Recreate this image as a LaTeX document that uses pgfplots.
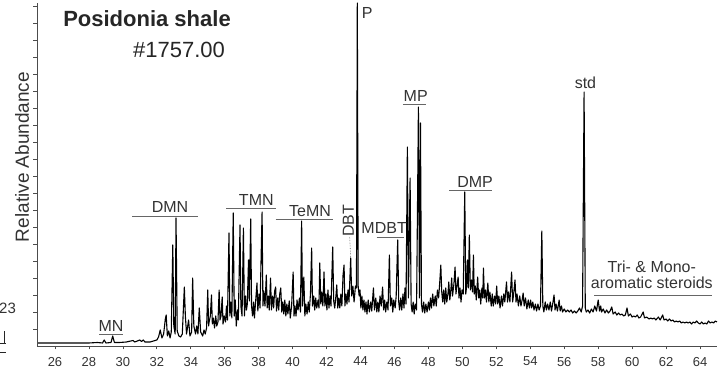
\documentclass[border=0pt]{standalone}
\usepackage{fontspec}
\setmainfont{Liberation Sans}
\usepackage{pgfplots}
\pgfplotsset{compat=1.18}
\definecolor{lab}{HTML}{333333}
\definecolor{barc}{HTML}{666666}
\begin{document}
\begin{tikzpicture}
\useasboundingbox (-37pt,-31pt) rectangle (687pt,346pt);
\begin{axis}[
 scale only axis, width=680pt, height=343pt,
 xmin=24.94, xmax=65.0, ymin=0, ymax=343,
 axis x line*=bottom, axis y line*=left,
 xtick={26,28,...,64},
 ytick={17,34,...,340}, yticklabels={},
 tick align=outside, major tick length=3.5pt,
 tick style={color=black!70, line width=0.7pt},
 axis line style={color=black!70, line width=0.9pt, -},
 x tick label style={font=\fontsize{13}{15}\selectfont, text=black!80, yshift=-4pt},
 /pgf/number format/assume math mode=true,
 clip=false,
]
\addplot[black, line width=1.1pt, no markers, sharp plot, line join=round] coordinates {
(25.0,3) (25.5,3) (26,3) (26.5,3) (27,3) (27.5,3) (28,3) (28.5,3.5) (28.8,3) (28.9,6) (29.0,3) (29.3,3.5) (29.4,10) (29.5,3.5) (29.8,3.5) (30.2,4) (30.6,5.5) (30.7,4) (31.0,6) (31.1,4.5) (31.2,6) (31.3,4) (31.6,4) (31.8,5)
(32.0,6) (32.1,9) (32.2,16) (32.3,8) (32.4,12) (32.5,27) (32.55,31) (32.62,10) (32.7,15) (32.78,8) (32.85,14) (32.94,101) (33.0,20) (33.08,12) (33.13,128) (33.2,15) (33.3,10) (33.4,9) (33.5,12) (33.62,59) (33.68,30) (33.75,12) (33.87,26) (33.95,10) (34.05,14) (34.11,68) (34.18,20) (34.28,12) (34.35,20) (34.42,12) (34.5,38) (34.58,14) (34.7,10) (34.78,16) (34.85,12) (34.93,18)
(35.0,56) (35.05,20) (35.08,24) (35.15,30) (35.22,51) (35.27,22) (35.33,28) (35.4,18) (35.47,30) (35.53,20) (35.6,24) (35.67,56) (35.72,26) (35.78,30) (35.85,49) (35.9,22) (35.97,30) (36.05,24) (36.1,40) (36.16,26) (36.25,113) (36.3,30) (36.36,44) (36.42,28) (36.5,133) (36.56,30) (36.62,46) (36.68,20) (36.75,36) (36.8,26) (36.9,121) (36.95,40) (37.02,30) (37.1,118) (37.16,30) (37.22,50) (37.28,36) (37.33,42) (37.4,86) (37.45,45) (37.53,127) (37.58,40) (37.64,30) (37.7,44) (37.75,28) (37.8,40) (37.9,63) (37.95,35) (38.02,52) (38.08,38) (38.2,134) (38.25,40) (38.3,55) (38.37,40) (38.45,71) (38.5,38) (38.56,50) (38.62,36) (38.7,68) (38.75,36) (38.82,50) (38.88,38) (38.94,55) (39.0,59) (39.05,35) (39.12,48) (39.18,36) (39.24,52) (39.3,58) (39.36,34) (39.42,44) (39.48,32) (39.54,46) (39.6,30) (39.66,42) (39.72,32) (39.8,45) (39.86,28) (39.94,40)
(40.03,74) (40.08,30) (40.14,40) (40.2,30) (40.26,46) (40.32,36) (40.4,48) (40.46,34) (40.53,125) (40.58,40) (40.66,69) (40.72,30) (40.78,42) (40.85,32) (40.92,44) (40.98,34) (41.05,52) (41.12,98) (41.17,40) (41.24,50) (41.3,36) (41.36,48) (41.42,38) (41.5,46) (41.55,38) (41.6,83) (41.66,42) (41.72,54) (41.78,40) (41.85,74) (41.9,40) (41.96,52) (42.02,36) (42.08,56) (42.14,38) (42.2,50) (42.26,40) (42.36,99) (42.42,45) (42.48,38) (42.55,50) (42.6,61) (42.66,38) (42.72,48) (42.78,38) (42.84,52) (42.9,40) (42.97,71) (43.03,81) (43.08,40) (43.14,52) (43.2,42) (43.26,56) (43.32,44) (43.42,88) (43.48,50) (43.55,60) (43.62,44) (43.7,60) (43.76,58) (43.81,343) (43.86,60) (43.92,50) (43.97,56)
(44.02,38) (44.08,50) (44.14,36) (44.2,46) (44.26,34) (44.32,44) (44.38,32) (44.45,46) (44.52,34) (44.6,44) (44.66,35) (44.76,58) (44.82,36) (44.9,48) (44.96,34) (45.02,44) (45.08,34) (45.15,50) (45.22,40) (45.3,59) (45.36,36) (45.42,46) (45.48,34) (45.55,44) (45.62,36) (45.7,91) (45.76,40) (45.84,48) (45.9,34) (45.96,46) (46.04,38) (46.1,50) (46.19,106) (46.25,44) (46.3,36) (46.37,48) (46.43,36) (46.5,52) (46.56,38) (46.62,58) (46.68,42) (46.76,199) (46.82,48) (46.92,168) (46.98,42) (47.04,34) (47.1,44) (47.16,32) (47.22,42) (47.3,36) (47.41,239) (47.47,48) (47.53,223) (47.59,42) (47.65,34) (47.72,44) (47.78,33) (47.85,42) (47.92,34) (48.0,44) (48.06,36) (48.12,48) (48.18,38) (48.25,52) (48.32,40) (48.4,50) (48.46,40) (48.53,56) (48.6,48) (48.66,62) (48.73,81) (48.78,55) (48.84,44) (48.9,56) (48.96,42) (49.02,58) (49.08,44) (49.15,52) (49.2,64) (49.26,46) (49.32,56) (49.37,68) (49.42,50) (49.5,62) (49.57,79) (49.62,52) (49.68,60) (49.75,69) (49.8,48) (49.86,58) (49.92,44) (49.98,56)
(50.05,52) (50.14,154) (50.2,52) (50.25,60) (50.3,86) (50.35,58) (50.41,111) (50.47,56) (50.54,66) (50.6,54) (50.65,91) (50.7,52) (50.76,60) (50.82,46) (50.9,69) (50.96,48) (51.02,56) (51.08,42) (51.15,58) (51.2,48) (51.24,78) (51.3,48) (51.36,56) (51.42,44) (51.5,63) (51.56,44) (51.62,54) (51.7,40) (51.76,52) (51.82,40) (51.9,50) (51.96,42) (52.02,60) (52.08,42) (52.15,50) (52.22,38) (52.3,50) (52.36,40) (52.44,52) (52.5,44) (52.6,64) (52.66,44) (52.72,54) (52.8,44) (52.9,74) (52.96,44) (53.02,52) (53.1,66) (53.16,44) (53.22,52) (53.3,40) (53.38,50) (53.45,40) (53.52,46) (53.58,53) (53.64,40) (53.72,48) (53.8,37) (53.88,46) (53.95,38)
(54.02,46) (54.08,38) (54.15,44) (54.22,36) (54.3,42) (54.37,35) (54.45,42) (54.52,36) (54.6,40) (54.68,115) (54.74,40) (54.8,34) (54.88,44) (54.95,36) (55.02,42) (55.1,36) (55.18,44) (55.25,35) (55.32,42) (55.4,51) (55.46,36) (55.52,42) (55.6,35) (55.7,46) (55.76,35) (55.84,40) (55.9,34) (56.0,37) (56.1,34) (56.2,36) (56.3,34) (56.4,36) (56.5,33) (56.6,35) (56.7,33) (56.8,35) (56.9,38) (57.0,34) (57.08,40) (57.17,254) (57.24,38) (57.3,34) (57.4,36) (57.5,33) (57.6,37) (57.7,34) (57.8,40) (57.9,35)
(58.0,46) (58.08,35) (58.15,40) (58.2,34) (58.3,37) (58.4,33) (58.5,36) (58.6,33) (58.7,35) (58.8,39) (58.88,32) (59.0,34) (59.1,31) (59.2,33) (59.3,31) (59.4,32) (59.5,30) (59.6,31) (59.7,38) (59.78,30) (59.9,32) (60.0,29) (60.1,30) (60.2,29) (60.3,31) (60.4,28) (60.5,29) (60.65,34) (60.73,28) (60.85,29) (61.0,27) (61.1,28) (61.2,27) (61.3,28) (61.4,26) (61.55,29) (61.65,26) (61.8,31) (61.88,26)
(62.0,27) (62.1,25) (62.2,27) (62.3,25) (62.4,26) (62.5,24) (62.6,25) (62.7,24) (62.8,25) (62.9,23) (63.0,24) (63.1,23) (63.2,24) (63.3,23) (63.4,24) (63.5,22) (63.6,24) (63.7,23) (63.8,25) (63.9,23) (64.0,22) (64.1,24) (64.2,22) (64.3,23) (64.4,22) (64.5,25) (64.6,23) (64.7,24) (64.8,23) (64.9,25) (65.0,24)
};
% labels
\begin{scope}[every node/.style={font=\fontsize{16}{18}\selectfont, text=lab, inner sep=0pt}]
\draw[barc, line width=0.9pt] (axis cs:28.6,12) -- (axis cs:30.0,12);
\node at (axis cs:29.3,20) {MN};
\draw[barc, line width=0.9pt] (axis cs:30.54,130) -- (axis cs:34.43,130);
\node at (axis cs:32.78,139) {DMN};
\draw[barc, line width=0.9pt] (axis cs:36.1,138) -- (axis cs:39.0,138);
\node at (axis cs:37.86,146) {TMN};
\draw[barc, line width=0.9pt] (axis cs:39.0,127) -- (axis cs:42.4,127);
\node at (axis cs:41.03,135) {TeMN};
\node[rotate=90] at (axis cs:43.28,125) {DBT};
\draw[barc, densely dotted, line width=0.6pt] (axis cs:43.36,109) -- (axis cs:43.42,89);
\node at (axis cs:44.4,333) {P};
\draw[barc, line width=0.9pt] (axis cs:44.95,109) -- (axis cs:46.57,109);
\node at (axis cs:45.39,118) {MDBT};
\draw[barc, line width=0.9pt] (axis cs:46.49,242) -- (axis cs:47.86,242);
\node at (axis cs:47.25,250) {MP};
\draw[barc, line width=0.9pt] (axis cs:49.24,156) -- (axis cs:51.77,156);
\node at (axis cs:50.75,164) {DMP};
\node at (axis cs:57.25,263) {std};
\node at (axis cs:61.16,79) {Tri- \& Mono-};
\node at (axis cs:61.16,63) {aromatic steroids};
\draw[barc, line width=0.9pt] (axis cs:57.78,51) -- (axis cs:64.7,51);
\end{scope}
\end{axis}
\node[font=\fontsize{22}{25}\selectfont\bfseries, text=black!85] at (110pt,327pt) {Posidonia shale};
\node[font=\fontsize{22}{25}\selectfont, text=black!85] at (142pt,296pt) {\#1757.00};
\node[rotate=90, font=\fontsize{19}{21}\selectfont, text=black!80] at (-15pt,189pt) {Relative Abundance};
\node[font=\fontsize{15}{17}\selectfont, text=black!80, anchor=west, inner sep=0pt] at (-38pt,38pt) {23};
\draw[black!85, line width=0.9pt] (-33pt,2pt) -- (-33pt,15pt) (-37pt,3pt) -- (-31pt,3pt) (-37pt,-6pt) -- (-31pt,-6pt);
\end{tikzpicture}
\end{document}
